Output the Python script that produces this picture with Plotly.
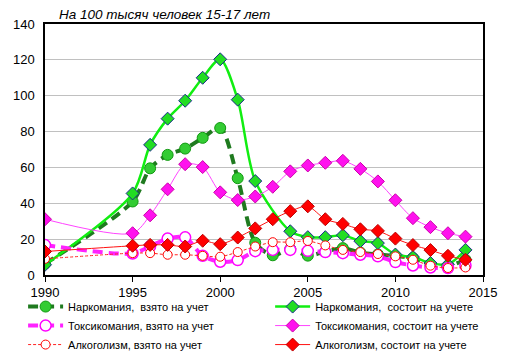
import plotly.graph_objects as go

years = [1990, 1995, 1996, 1997, 1998, 1999, 2000, 2001, 2002, 2003, 2004, 2005,
         2006, 2007, 2008, 2009, 2010, 2011, 2012, 2013, 2014]
years_narc_reg = [1990, 1995, 1996, 1997, 1998, 1999, 2000, 2001, 2002, 2004, 2005,
                  2006, 2007, 2008, 2009, 2010, 2011, 2012, 2013, 2014]

narc_taken = [6.3, 41, 59.5, 67, 70.5, 76.5, 82, 54, 18, 11, 14.5, 10.8,
              13, 15, 12.5, 11.5, 10.5, 9.5, 5.5, 5, 8.5]
narc_reg = [5.7, 45.5, 72.6, 87.2, 97.2, 110, 120.3, 97.8, 52.4, 24.4, 21.1,
            21.1, 22.2, 18.9, 17.8, 11.4, 10, 6.7, 5.9, 14]
tox_taken = [16.7, 12, 16, 20.3, 21, 10.7, 7.4, 8.3, 13.3, 14, 14, 13.5,
             12.8, 12.2, 11.3, 10.4, 7.2, 5.3, 4.2, 3.9, 5.3]
tox_reg = [31.1, 23.3, 33.3, 47.8, 61.8, 60.2, 46.1, 41.8, 43.8, 49.2, 57.8, 61.1,
           62.6, 63.7, 59.2, 52.2, 41.7, 31.7, 26.7, 23.3, 21.4]
alc_taken = [9, 12.2, 12.2, 11.3, 11.3, 10.7, 10.2, 12.8, 15.9, 18.3, 18.3, 19,
             16.5, 14, 12.8, 11.7, 10.4, 8.5, 5.2, 3.9, 4.2]
alc_reg = [13.1, 16.3, 16.8, 16.8, 15.9, 19.1, 17.2, 20.9, 26, 31.1, 35.6, 38.3,
           31.1, 28.5, 25.5, 24.6, 20.3, 16.7, 13.9, 10.7, 8.5]

names = ["Наркомания,  взято на учет", "Наркомания,  состоит на учете",
         "Токсикомания, взято на учет", "Токсикомания, состоит на учете",
         "Алкоголизм, взято на учет", "Алкоголизм, состоит на учете"]

FONT = "Liberation Sans, Arial, sans-serif"

fig = go.Figure()

fig.add_trace(go.Scatter(
    x=years, y=narc_taken, name=names[0], mode="lines+markers", legend="legend",
    line=dict(color="#1f7a1f", width=4, dash="10px,6px", shape="spline", smoothing=0.8),
    marker=dict(symbol="circle", size=11, color="#33cc33", line=dict(color="#119911", width=1))))
fig.add_trace(go.Scatter(
    x=years_narc_reg, y=narc_reg, name=names[1], mode="lines+markers", legend="legend2",
    line=dict(color="#11ee11", width=2.5, shape="spline", smoothing=0.8),
    marker=dict(symbol="diamond", size=10, color="#22dd22", line=dict(color="#1a2a8c", width=1))))
fig.add_trace(go.Scatter(
    x=years, y=tox_taken, name=names[2], mode="lines+markers", legend="legend",
    line=dict(color="#ff22ff", width=4, dash="10px,6px", shape="spline", smoothing=0.8),
    marker=dict(symbol="circle", size=11, color="white", line=dict(color="#ff00ff", width=1.5))))
fig.add_trace(go.Scatter(
    x=years, y=tox_reg, name=names[3], mode="lines+markers", legend="legend2",
    line=dict(color="#ff44ff", width=1, shape="spline", smoothing=0.8),
    marker=dict(symbol="diamond", size=10, color="#ff11ee", line=dict(color="#cc00aa", width=1))))
fig.add_trace(go.Scatter(
    x=years, y=alc_taken, name=names[4], mode="lines+markers", legend="legend",
    line=dict(color="#ff2222", width=1, dash="3px,2px", shape="spline", smoothing=0.8),
    marker=dict(symbol="circle", size=9, color="white", line=dict(color="#ff0000", width=1))))
fig.add_trace(go.Scatter(
    x=years, y=alc_reg, name=names[5], mode="lines+markers", legend="legend2",
    line=dict(color="#ff1111", width=1, shape="spline", smoothing=0.8),
    marker=dict(symbol="diamond", size=10, color="#ff0000", line=dict(color="#bb0000", width=1))))

leg_common = dict(orientation="v", xanchor="left", yanchor="top",
                  font=dict(family=FONT, size=11, color="black"),
                  bgcolor="rgba(0,0,0,0)", tracegroupgap=0, itemwidth=35,
                  traceorder="normal")

fig.update_layout(
    width=513, height=354,
    margin=dict(l=45, r=30, t=24, b=79, autoexpand=False),
    paper_bgcolor="white", plot_bgcolor="white",
    font=dict(family=FONT, size=12, color="black"),
    showlegend=True,
    legend=dict(x=-0.05, y=-0.068, **leg_common),
    legend2=dict(x=0.514, y=-0.068, **leg_common),
    annotations=[dict(text="<i>На 100 тысяч человек 15-17 лет</i>", xref="paper", yref="paper",
                      x=0.028, y=1.0, xanchor="left", yanchor="bottom", showarrow=False,
                      font=dict(family=FONT, size=13.5, color="black"))],
)
fig.update_xaxes(range=[1990, 2015], dtick=5, tick0=1990, showgrid=False,
                 showline=True, linecolor="black", linewidth=1.5, mirror=True,
                 ticks="outside", ticklen=5, tickcolor="black",
                 tickfont=dict(family=FONT, size=13, color="black"), zeroline=False)
fig.update_yaxes(range=[0, 140], dtick=20, showgrid=True, gridcolor="#c0c0c0", gridwidth=1,
                 showline=True, linecolor="black", linewidth=1.5, mirror=True,
                 ticks="", ticklabelstandoff=6,
                 tickfont=dict(family=FONT, size=13, color="black"), zeroline=False)

fig.write_html("out.html")
